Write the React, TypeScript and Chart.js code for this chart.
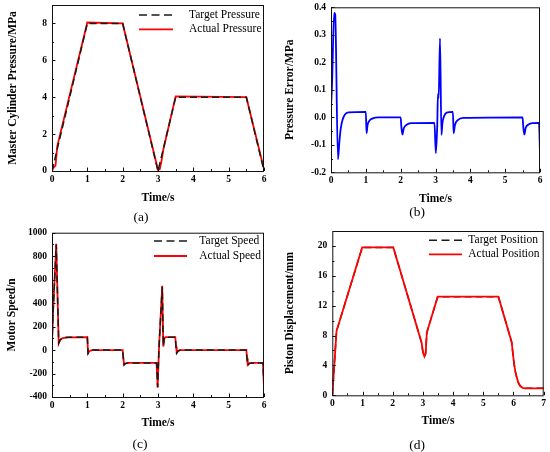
import { useEffect, useRef } from "react";
import { Chart, registerables } from "chart.js";

Chart.register(...registerables);

const SERIF = "'Liberation Serif', 'Times New Roman', serif";
const W = 275;
const H = 226;

// (a) master cylinder pressure, MPa
const timeA = [0, 0.03, 0.1, 0.15, 1.0, 2.0, 3.0, 3.05, 3.1, 3.15, 3.5, 5.5, 6.0];
const targetPressure = [0, 0.24, 0.8, 1.2, 8, 8, 0, 0.4, 0.8, 1.2, 4, 4, 0];
const actualPressure = [0, 0.15, 0.3, 1.35, 8.05, 8, 0.05, 0.1, 0.55, 1.15, 4.05, 4, 0.1];

// (b) pressure error, MPa
const timeB = [
  0, 0.03, 0.09, 0.12, 0.2, 0.24, 0.28, 0.33, 0.4, 0.5,
  1.0, 1.02, 1.05, 1.1, 1.2, 1.35,
  2.0, 2.02, 2.05, 2.09, 2.17, 2.3,
  2.97, 3.01, 3.05, 3.07, 3.09, 3.13, 3.17, 3.2, 3.25, 3.32,
  3.5, 3.52, 3.56, 3.64, 3.8,
  5.5, 5.52, 5.55, 5.59, 5.67, 5.8,
  5.97, 6.0,
];
const pressureError = [
  0.035, 0.12, 0.38, 0.375, -0.153, -0.09, -0.04, -0.01, 0.01, 0.018,
  0.02, -0.058, -0.028, -0.013, -0.004, 0,
  0, -0.035, -0.063, -0.04, -0.027, -0.021,
  -0.02, -0.13, -0.03, 0.085, 0.07, 0.287, -0.064, -0.02, 0.005, 0.017,
  0.02, -0.058, -0.027, -0.01, -0.002,
  0, -0.035, -0.063, -0.038, -0.026, -0.021,
  -0.02, -0.13,
];

// (c) motor speed
const timeC = [
  0, 0.03, 0.12, 0.19, 0.23, 0.3, 0.45,
  1.0, 1.02, 1.05, 1.09, 1.15,
  2.0, 2.02, 2.04, 2.08, 2.15,
  2.96, 2.99, 3.03, 3.12, 3.15, 3.18, 3.22,
  3.49, 3.51, 3.53, 3.57, 3.63,
  5.5, 5.52, 5.54, 5.58, 5.65,
  5.97, 6.0,
];
const targetSpeed = [
  40, 320, 900, 60, 88, 104, 109,
  110, -30, -15, -5, 0,
  0, -75, -128, -115, -110,
  -110, -315, 35, 540, 35, 105, 110,
  110, 25, -28, -8, 0,
  0, -75, -130, -115, -110,
  -110, -315,
];
const actualSpeed = [
  40, 320, 905, 57, 85, 102, 108,
  110, -25, -12, -4, 0,
  0, -70, -122, -113, -110,
  -110, -320, 30, 548, 30, 100, 110,
  110, 30, -20, -6, 0,
  0, -70, -125, -113, -110,
  -110, -320,
];

// (d) piston displacement, mm
const timeD = [0, 0.14, 0.99, 2.02, 2.96, 3.0, 3.05, 3.09, 3.13, 3.49, 5.5, 5.94, 5.98, 6.02, 6.06, 6.1, 6.16, 6.22, 6.3, 6.38, 7.0];
const targetPosition = [0, 8.6, 19.8, 19.8, 7.0, 5.8, 5.2, 5.6, 8.4, 13.2, 13.2, 7.1, 5.6, 4.2, 3.2, 2.5, 1.7, 1.25, 1.0, 0.94, 0.94];
const actualPosition = [0, 8.6, 19.8, 19.8, 7.0, 5.8, 5.2, 5.6, 8.4, 13.2, 13.2, 7.1, 5.6, 4.2, 3.2, 2.5, 1.7, 1.25, 1.0, 0.94, 0.94];

const pts = (xs: number[], ys: number[]) => xs.map((x, i) => ({ x, y: ys[i] }));

const dashed = (label: string, xs: number[], ys: number[], order: number) => ({
  label,
  data: pts(xs, ys),
  borderColor: "#1a1a1a",
  borderWidth: 1.5,
  borderDash: [7, 4],
  order,
});
const solid = (label: string, xs: number[], ys: number[], color: string, order: number, smooth = false) => ({
  label,
  data: pts(xs, ys),
  borderColor: color,
  borderWidth: 1.8,
  order,
  cubicInterpolationMode: smooth ? ("monotone" as const) : ("default" as const),
});

// box, inward ticks, legend and caption
const framePlugin = {
  id: "frame",
  afterDraw(chart: any, _args: any, opts: any) {
    const { ctx, chartArea: a, scales } = chart;
    ctx.save();
    ctx.strokeStyle = "#111";
    ctx.lineWidth = 1;
    ctx.strokeRect(a.left + 0.5, a.top + 0.5, a.right - a.left - 1, a.bottom - a.top);

    const marks = (scale: any, horiz: boolean) => {
      const vals = scale.ticks.map((t: any) => t.value);
      const step = vals[1] - vals[0];
      const draw = (v: number, len: number) => {
        const p = Math.round(scale.getPixelForValue(v)) + 0.5;
        ctx.beginPath();
        if (horiz) {
          ctx.moveTo(p, a.bottom);
          ctx.lineTo(p, a.bottom - len);
        } else {
          ctx.moveTo(a.left, p);
          ctx.lineTo(a.left + len, p);
        }
        ctx.stroke();
      };
      vals.forEach((v: number) => {
        draw(v, 3.5);
        if (v + step / 2 < scale.max - 1e-9) draw(v + step / 2, 2);
      });
    };
    marks(scales.x, true);
    marks(scales.y, false);

    if (opts.legend) {
      const L = opts.legend;
      ctx.font = `11.5px ${SERIF}`;
      ctx.textBaseline = "middle";
      ctx.textAlign = "left";
      chart.data.datasets.forEach((ds: any, i: number) => {
        const y = L.rows[i];
        ctx.beginPath();
        ctx.strokeStyle = ds.borderColor;
        ctx.lineWidth = ds.borderWidth;
        ctx.setLineDash(ds.borderDash ? [8, 4.5] : []);
        ctx.moveTo(L.x0, y);
        ctx.lineTo(L.x1, y);
        ctx.stroke();
        ctx.setLineDash([]);
        ctx.fillStyle = "#000";
        ctx.fillText(ds.label, L.tx, y);
      });
    }

    ctx.font = `13.5px ${SERIF}`;
    ctx.fillStyle = "#000";
    ctx.textAlign = "center";
    ctx.textBaseline = "middle";
    ctx.fillText(opts.caption, opts.capX, opts.capY);
    ctx.restore();
  },
};

type PanelCfg = {
  left: number;
  top: number;
  area: { l: number; r: number; t: number; b: number };
  xMax: number;
  yMin: number;
  yMax: number;
  yStep: number;
  yDigits?: number;
  yTitle: string;
  yTitlePad: number;
  xTitlePad: number;
  caption: string;
  capX: number;
  capY: number;
  legend?: { x0: number; x1: number; tx: number; rows: number[] };
  datasets: any[];
};

const tickFont = { family: SERIF, size: 9.5, weight: "bold" as const };
const titleFont = { family: SERIF, size: 11.5, weight: "bold" as const };

function Panel({ cfg }: { cfg: PanelCfg }) {
  const canvasRef = useRef<HTMLCanvasElement>(null);

  useEffect(() => {
    const el = canvasRef.current;
    if (!el) return;
    const { area } = cfg;
    const chart = new Chart(el, {
      type: "line",
      data: { datasets: cfg.datasets },
      options: {
        animation: false,
        responsive: false,
        elements: { point: { radius: 0 }, line: { tension: 0, fill: false } },
        layout: { padding: { left: 0, top: area.t, right: W - area.r, bottom: 0 } },
        plugins: {
          legend: { display: false },
          tooltip: { enabled: false },
          frame: { legend: cfg.legend, caption: cfg.caption, capX: cfg.capX, capY: cfg.capY },
        } as any,
        scales: {
          x: {
            type: "linear",
            min: 0,
            max: cfg.xMax,
            grid: { display: false, drawTicks: false },
            border: { display: false },
            ticks: { stepSize: 1, padding: 3, color: "#000", font: tickFont, maxRotation: 0, autoSkip: false },
            title: { display: true, text: "Time/s", color: "#000", font: titleFont, padding: { top: 0, bottom: cfg.xTitlePad } },
            afterFit: (s: any) => {
              s.height = H - area.b;
              s.paddingLeft = 0;
              s.paddingRight = 0;
            },
          },
          y: {
            type: "linear",
            min: cfg.yMin,
            max: cfg.yMax,
            grid: { display: false, drawTicks: false },
            border: { display: false },
            ticks: {
              stepSize: cfg.yStep,
              includeBounds: false,
              padding: 5,
              color: "#000",
              font: tickFont,
              autoSkip: false,
              callback: (v: any) => (cfg.yDigits ? Number(v).toFixed(cfg.yDigits) : String(v)),
            },
            title: { display: true, text: cfg.yTitle, color: "#000", font: titleFont, padding: { top: cfg.yTitlePad, bottom: 0 } },
            afterFit: (s: any) => {
              s.width = area.l;
              s.paddingTop = 0;
              s.paddingBottom = 0;
            },
          },
        },
      },
      plugins: [framePlugin],
    });
    return () => chart.destroy();
  }, [cfg]);

  return (
    <canvas
      ref={canvasRef}
      width={W}
      height={H}
      style={{ position: "absolute", left: cfg.left, top: cfg.top, width: W, height: H }}
    />
  );
}

const panels: PanelCfg[] = [
  {
    left: 0,
    top: 0,
    area: { l: 52, r: 264, t: 5, b: 171 },
    xMax: 6,
    yMin: 0,
    yMax: 9,
    yStep: 2,
    yTitle: "Master Cylinder Pressure/MPa",
    yTitlePad: 5.8,
    xTitlePad: 21,
    caption: "(a)",
    capX: 141,
    capY: 217,
    legend: { x0: 139, x1: 173, tx: 189, rows: [15, 29.3] },
    datasets: [
      dashed("Target Pressure", timeA, targetPressure, 0),
      solid("Actual Pressure", timeA, actualPressure, "#ff0000", 1),
    ],
  },
  {
    left: 275,
    top: 0,
    area: { l: 56, r: 265, t: 7.3, b: 172.3 },
    xMax: 6,
    yMin: -0.2,
    yMax: 0.4,
    yStep: 0.1,
    yDigits: 1,
    yTitle: "Pressure Error/MPa",
    yTitlePad: 8,
    xTitlePad: 20,
    caption: "(b)",
    capX: 142,
    capY: 212,
    datasets: [solid("Pressure Error", timeB, pressureError, "#0000ff", 0, true)],
  },
  {
    left: 0,
    top: 226,
    area: { l: 52, r: 264, t: 6.7, b: 171 },
    xMax: 6,
    yMin: -400,
    yMax: 1000,
    yStep: 200,
    yTitle: "Motor Speed/n",
    yTitlePad: 4.8,
    xTitlePad: 22.4,
    caption: "(c)",
    capX: 140,
    capY: 218,
    legend: { x0: 154, x1: 187, tx: 199.3, rows: [15, 30] },
    datasets: [
      dashed("Target Speed", timeC, targetSpeed, 0),
      solid("Actual Speed", timeC, actualSpeed, "#ff0000", 1),
    ],
  },
  {
    left: 275,
    top: 226,
    area: { l: 57.3, r: 268.7, t: 5, b: 169.3 },
    xMax: 7,
    yMin: 0,
    yMax: 22,
    yStep: 4,
    yTitle: "Piston Displacement/mm",
    yTitlePad: 8,
    xTitlePad: 24,
    caption: "(d)",
    capX: 142,
    capY: 219.5,
    legend: { x0: 154, x1: 187, tx: 193.3, rows: [14.3, 28.3] },
    datasets: [
      dashed("Target Position", timeD, targetPosition, 1),
      solid("Actual Position", timeD, actualPosition, "#ff0000", 0),
    ],
  },
];

export default function App() {
  return (
    <div style={{ position: "absolute", left: 0, top: 0, width: 550, height: 452, background: "#fff" }}>
      {panels.map((p) => (
        <Panel key={p.caption} cfg={p} />
      ))}
    </div>
  );
}
